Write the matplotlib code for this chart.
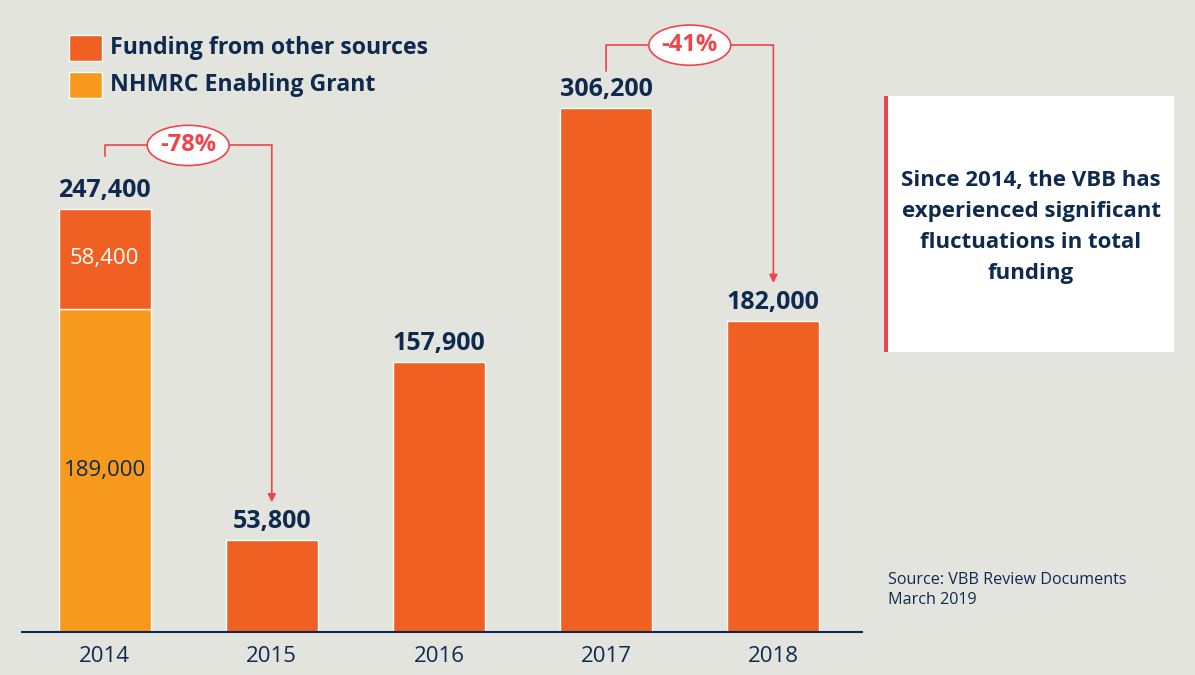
import matplotlib
matplotlib.use("Agg")
import numpy as np
import matplotlib.pyplot as plt
from matplotlib.patches import Ellipse, Rectangle

# data
years = ["2014", "2015", "2016", "2017", "2018"]
nhmrc = [189000, 0, 0, 0, 0]
other = [58400, 53800, 157900, 306200, 182000]
changes = [("-78%", 0, 1), ("-41%", 3, 4)]

navy = "#0E2A4F"
c_other = "#F16023"
c_nhmrc = "#F7991D"
red = "#F0444C"
bg = "#E4E4DF"

plt.rcParams['font.family'] = ['Open Sans', 'DejaVu Sans']

fig = plt.figure(figsize=(11.95, 6.75), dpi=100, facecolor=bg)
ax = fig.add_axes([22/1195, 43/675, 840/1195, 612/675])
ax.set_facecolor(bg)

x = np.arange(len(years))
totals = np.array(nhmrc) + np.array(other)
w = 0.55
ax.bar(x, nhmrc, w, color=c_nhmrc, edgecolor="white", linewidth=1)
ax.bar(x, other, w, bottom=nhmrc, color=c_other, edgecolor="white", linewidth=1)

ax.set_xlim(-0.494, 4.53)
ax.set_ylim(0, 357700)

for s in ["top", "right", "left"]:
    ax.spines[s].set_visible(False)
ax.spines["bottom"].set_color(navy)
ax.spines["bottom"].set_linewidth(1.5)
ax.set_yticks([])
ax.set_xticks(x)
ax.set_xticklabels(years, fontsize=16, color=navy,
                   family=['Liberation Sans Narrow', 'Open Sans', 'DejaVu Sans'])
ax.tick_params(axis="x", length=0, pad=10)

# total labels
for i, t in enumerate(totals):
    ax.text(i, t + 3500, f"{t:,}", ha="center", va="bottom", fontsize=18,
            fontweight="bold", color=navy)

# segment labels for stacked 2014
ax.text(0, nhmrc[0] / 2, f"{nhmrc[0]:,}", ha="center", va="center",
        fontsize=16, color=navy)
ax.text(0, nhmrc[0] + other[0] / 2, f"{other[0]:,}", ha="center", va="center",
        fontsize=16, color="white")

# change brackets
for lab, a, b in changes:
    top = totals[a] + 37000
    start = totals[a] + 31000
    end = totals[b] + 22000
    if lab == "-41%":
        top = totals[a] + 36800
        start = totals[a] + 21700
    ax.plot([a, a, b], [start, top, top], color=red, lw=1.2, zorder=3)
    ax.annotate("", xy=(b, end), xytext=(b, top),
                arrowprops=dict(arrowstyle="-|>", color=red, lw=1.2,
                                mutation_scale=12, shrinkA=0, shrinkB=0),
                zorder=3)
    mid = (a + b) / 2
    ax.add_patch(Ellipse((mid, top), 0.49, 23500, facecolor="white",
                         edgecolor=red, lw=1.2, zorder=4))
    ax.text(mid, top, lab, ha="center", va="center", fontsize=17,
            fontweight="bold", color=red, zorder=5)

# legend
fig.patches.append(Rectangle((69/1195, 1 - 61/675), 33/1195, 26/675,
                             transform=fig.transFigure, facecolor=c_other,
                             edgecolor="white", lw=1))
fig.patches.append(Rectangle((69/1195, 1 - 98/675), 33/1195, 26/675,
                             transform=fig.transFigure, facecolor=c_nhmrc,
                             edgecolor="white", lw=1))
fig.text(110/1195, 1 - 48/675, "Funding from other sources", fontsize=16.7,
         fontweight="bold", color=navy, va="center")
fig.text(110/1195, 1 - 85/675, "NHMRC Enabling Grant", fontsize=16.7,
         fontweight="bold", color=navy, va="center")

# side box
fig.patches.append(Rectangle((886/1195, 1 - 352/675), 288/1195, 256/675,
                             transform=fig.transFigure, facecolor="white",
                             edgecolor="none"))
fig.patches.append(Rectangle((884/1195, 1 - 352/675), 4/1195, 256/675,
                             transform=fig.transFigure, facecolor=red,
                             edgecolor="none"))
fig.text(1031/1195, 1 - 227/675,
         "Since 2014, the VBB has\nexperienced significant\nfluctuations in total\nfunding",
         ha="center", va="center", fontsize=16, fontweight="bold", color=navy,
         linespacing=1.62)

fig.text(888/1195, 1 - 590/675, "Source: VBB Review Documents\nMarch 2019",
         ha="left", va="center", fontsize=11.6, color=navy, linespacing=1.3)

fig.savefig("out.png", dpi=100, facecolor=bg)
